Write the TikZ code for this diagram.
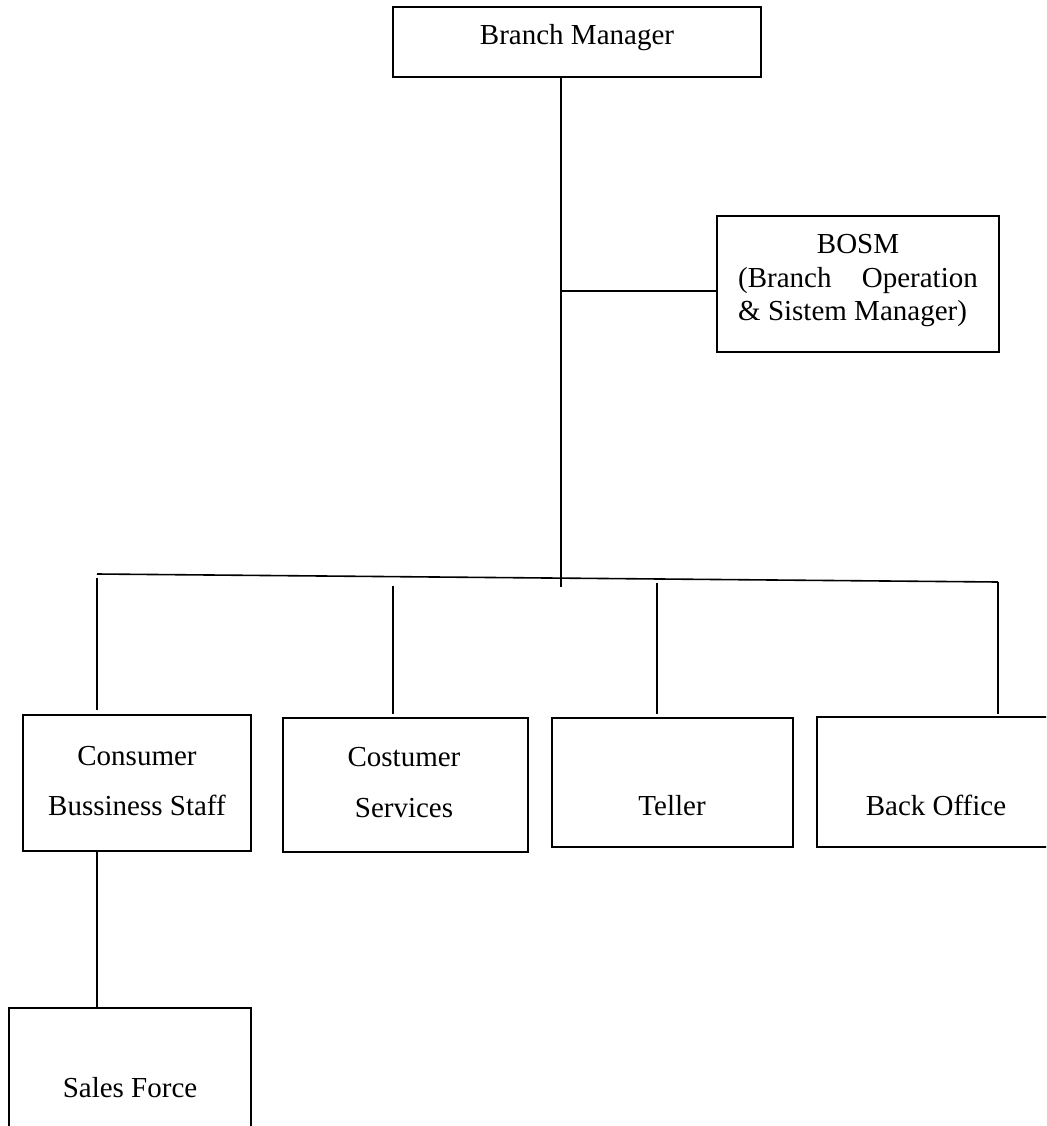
\documentclass[tikz,border=0pt]{standalone}
\usepackage{fontspec}
\setmainfont{Liberation Serif}
\begin{document}
\begin{tikzpicture}[x=1pt,y=-1pt,
  box/.style={draw, rectangle, line width=1.3pt, inner sep=0pt},
  lbl/.style={anchor=base, inner sep=0pt, font=\fontsize{29}{34}\selectfont},
  conn/.style={line width=1.6pt}]
\useasboundingbox (0,0) rectangle (1046,1126);
\clip (0,0) rectangle (1046,1126);
\fill[white] (0,0) rectangle (1046,1126);
% boxes
\node[box, minimum width=368pt, minimum height=70pt] (bm) at (577,42) {};
\node[box, minimum width=282pt, minimum height=136pt] (bosm) at (858,284) {};
\node[box, minimum width=228pt, minimum height=136pt] (cbs) at (137,783) {};
\node[box, minimum width=245pt, minimum height=134pt] (cs) at (405.5,785) {};
\node[box, minimum width=241pt, minimum height=129pt] (tel) at (672.5,782.5) {};
\node[box, minimum width=243pt, minimum height=130pt] (bo) at (938.5,782) {};
\node[box, minimum width=242pt, minimum height=132pt] (sf) at (130,1074) {};
% texts
\node[lbl] (tbm) at (577,45) {Branch Manager};
\node[lbl] (tbosm1) at (858,253) {BOSM};
\node[lbl, anchor=base west] (tbosm2a) at (738,287) {(Branch};
\node[lbl, anchor=base east] (tbosm2b) at (978,287) {Operation};
\node[lbl, anchor=base west] (tbosm3) at (738,320) {\& Sistem Manager)};
\node[lbl] (tcbs1) at (137,765) {Consumer};
\node[lbl] (tcbs2) at (137,815) {Bussiness Staff};
\node[lbl] (tcs1) at (404,766) {Costumer};
\node[lbl] (tcs2) at (404,817) {Services};
\node[lbl] (ttel) at (672,815) {Teller};
\node[lbl] (tbo) at (936,815) {Back Office};
\node[lbl] (tsf) at (130,1097) {Sales Force};
% coordinates
\coordinate (trunkend) at (561,587);
\coordinate (bj) at (561,291);
\coordinate (busL) at (97,574);
\coordinate (busR) at (998,582);
\coordinate (d1) at (97,578);
\coordinate (d2) at (393,586);
\coordinate (d3) at (657,583);
\coordinate (d4) at (998,582);
% connectors
\draw[conn] (bm.south -| trunkend) -- (trunkend);
\draw[conn] (bj) -- (bosm.west |- bj);
\draw[conn] (busL) -- (busR);
\draw[conn] (d1) -- ([yshift=4pt]cbs.north -| d1);
\draw[conn] (d2) -- ([yshift=3pt]cs.north -| d2);
\draw[conn] (d3) -- ([yshift=3pt]tel.north -| d3);
\draw[conn] (d4) -- ([yshift=2pt]bo.north -| d4);
\draw[conn] (cbs.south -| d1) -- (sf.north -| d1);
\end{tikzpicture}
\end{document}
